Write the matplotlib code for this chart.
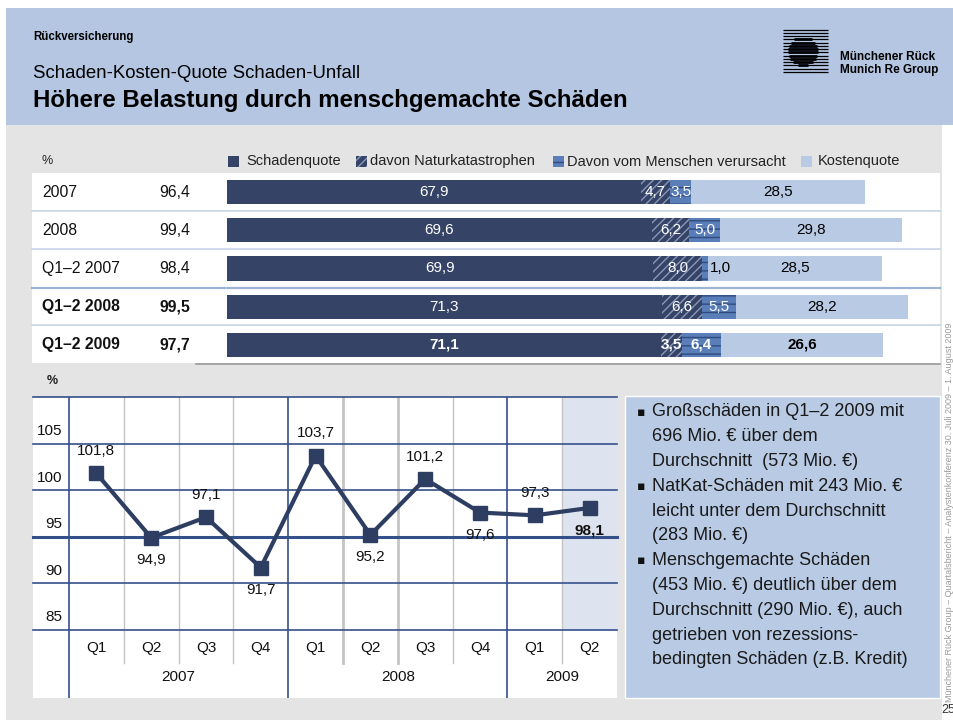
import matplotlib.pyplot as plt
import matplotlib.transforms as mtransforms
from matplotlib.patches import Rectangle

plt.rcParams['font.family'] = ['Liberation Sans', 'DejaVu Sans']
plt.rcParams['hatch.linewidth'] = 1.0

# ---------------- data ----------------
rows = ['2007', '2008', 'Q1–2 2007', 'Q1–2 2008', 'Q1–2 2009']
bold_rows = [False, False, False, True, True]
totals = [96.4, 99.4, 98.4, 99.5, 97.7]
schaden = [67.9, 69.6, 69.9, 71.3, 71.1]
natkat = [4.7, 6.2, 8.0, 6.6, 3.5]
mensch = [3.5, 5.0, 1.0, 5.5, 6.4]
kosten = [28.5, 29.8, 28.5, 28.2, 26.6]

quarters = ['Q1', 'Q2', 'Q3', 'Q4', 'Q1', 'Q2', 'Q3', 'Q4', 'Q1', 'Q2']
years = ['2007', '2008', '2009']
year_quarters = [4, 4, 2]
combined = [101.8, 94.9, 97.1, 91.7, 103.7, 95.2, 101.2, 97.6, 97.3, 98.1]

bullets = [
    ['Großschäden in Q1–2 2009 mit', '696 Mio. € über dem', 'Durchschnitt  (573 Mio. €)'],
    ['NatKat-Schäden mit 243 Mio. €', 'leicht unter dem Durchschnitt', '(283 Mio. €)'],
    ['Menschgemachte Schäden', '(453 Mio. €) deutlich über dem', 'Durchschnitt (290 Mio. €), auch',
     'getrieben von rezessions-', 'bedingten Schäden (z.B. Kredit)'],
]

NAVY = '#344366'
HATCH_FG = '#8a97b8'
MID = '#5a7eb8'
MID_FG = '#2f4c80'
LIGHT = '#b9cae4'
HEADER = '#b4c6e2'
GRAY = '#e4e4e4'
LINE = '#2e3e63'
GRID = '#34508a'


def fmt(v):
    return f'{v:.1f}'.replace('.', ',')


W, H = 954, 720
fig = plt.figure(figsize=(W / 100, H / 100), dpi=100)

# background axes in pixel coordinates
ax0 = fig.add_axes([0, 0, 1, 1])
ax0.set_xlim(0, W)
ax0.set_ylim(H, 0)
ax0.axis('off')

ax0.add_patch(Rectangle((6, 125), 936, 595, color=GRAY, lw=0))
ax0.add_patch(Rectangle((6, 8), 948, 117, color=HEADER, lw=0))
ax0.text(33, 37, 'Rückversicherung', fontsize=8.3, fontweight='bold', va='center')
ax0.text(33, 73, 'Schaden-Kosten-Quote Schaden-Unfall', fontsize=13.4, va='center')
ax0.text(33, 100, 'Höhere Belastung durch menschgemachte Schäden', fontsize=17.3,
         fontweight='bold', va='center')

# logo (stripes, thicker inside a disc)
for i in range(14):
    y = 29.5 + i * 3.25
    ax0.plot([783, 828], [y, y], color='black', lw=0.9, solid_capstyle='butt')
    dy = abs(y - 51)
    if dy < 15:
        half = (15 ** 2 - dy ** 2) ** 0.5
        ax0.plot([803 - half, 803 + half], [y, y], color='black', lw=2.0,
                 solid_capstyle='butt')
ax0.text(840, 57, 'Münchener Rück', fontsize=8.5, fontweight='bold', va='center')
ax0.text(840, 70, 'Munich Re Group', fontsize=8.5, fontweight='bold', va='center')

# legend of the bar table
ax0.text(42, 161, '%', fontsize=9, va='center', color='#222222')
leg = [(228, NAVY, None, NAVY, 'Schadenquote', 246),
       (356, NAVY, '////', HATCH_FG, 'davon Naturkatastrophen', 370),
       (553, MID, '--', MID_FG, 'Davon vom Menschen verursacht', 567),
       (801, LIGHT, None, LIGHT, 'Kostenquote', 818)]
for x, fc, hatch, ec, label, tx in leg:
    ax0.add_patch(Rectangle((x, 156), 11, 11, facecolor=fc, edgecolor=ec, hatch=hatch, lw=0))
    ax0.text(tx, 161.5, label, fontsize=10.5, va='center', color='#222222')

# white table
ax0.add_patch(Rectangle((32, 173), 908, 190, color='white', lw=0))
for i, y in enumerate([211, 249, 288, 325]):
    ax0.plot([32, 940], [y, y], color='#9db3d6' if i == 2 else '#c3d0e6',
             lw=1.6 if i == 2 else 1.1)
ax0.plot([196, 940], [363.5, 363.5], color='#9a9a9a', lw=1.2)

# ---------------- stacked bars ----------------
axb = fig.add_axes([227 / W, 1 - 364 / H, (940 - 227) / W, (364 - 173) / H])
axb.set_xlim(0, (940 - 227) / 6.1)
axb.set_ylim(len(rows) - 0.5, -0.5)
axb.axis('off')
axb.patch.set_alpha(0)

ypos = list(range(len(rows)))
h = 0.63
left2 = [a for a in schaden]
left3 = [a + b for a, b in zip(schaden, natkat)]
left4 = [a + b + c for a, b, c in zip(schaden, natkat, mensch)]
axb.barh(ypos, schaden, height=h, color=NAVY, lw=0)
axb.barh(ypos, natkat, left=left2, height=h, facecolor=NAVY, edgecolor=HATCH_FG,
         hatch='////', lw=0)
axb.barh(ypos, mensch, left=left3, height=h, facecolor=MID, edgecolor=MID_FG,
         hatch='--', lw=0)
axb.barh(ypos, kosten, left=left4, height=h, color=LIGHT, lw=0)

for i in ypos:
    fw = 'bold' if i == len(rows) - 1 else 'normal'
    axb.text(schaden[i] / 2, i, fmt(schaden[i]), color='white', ha='center', va='center',
             fontsize=11, fontweight=fw)
    axb.text(left2[i] + natkat[i] / 2, i, fmt(natkat[i]), color='white', ha='center',
             va='center', fontsize=11, fontweight=fw)
    if mensch[i] < 2:
        axb.text(left4[i] + 0.3, i, fmt(mensch[i]), color='black', ha='left', va='center',
                 fontsize=11, fontweight=fw)
    else:
        axb.text(left3[i] + mensch[i] / 2, i, fmt(mensch[i]), color='white', ha='center',
                 va='center', fontsize=11, fontweight=fw)
    axb.text(left4[i] + kosten[i] / 2, i, fmt(kosten[i]), color='black', ha='center',
             va='center', fontsize=11, fontweight=fw)

tr = mtransforms.blended_transform_factory(ax0.transData, axb.transData)
for i, name in enumerate(rows):
    fw = 'bold' if bold_rows[i] else 'normal'
    axb.text(42, i, name, transform=tr, va='center', fontsize=11.3, fontweight=fw,
             color='#111111')
    axb.text(190, i, fmt(totals[i]), transform=tr, va='center', ha='right', fontsize=11.3,
             fontweight=fw, color='#111111')

# ---------------- line chart ----------------
ymin, ymax = 77.7, 110
axl = fig.add_axes([33 / W, 1 - 698 / H, (617 - 33) / W, (698 - 397) / H])
axl.set_facecolor('white')
axl.set_xlim(-0.5 - 36 / 54.8, len(quarters) - 0.5)
axl.set_ylim(ymin, ymax)
for s in axl.spines.values():
    s.set_visible(False)
axl.set_xticks([])
axl.set_yticks([])

frac85 = (85 - ymin) / (ymax - ymin)
axl.axvspan(len(quarters) - 1.5, len(quarters) - 0.5, ymin=frac85, ymax=1,
            color='#dde4f0', lw=0, zorder=0)

xt = axl.get_xaxis_transform()
# quarter separators
for k in range(len(quarters) - 1):
    b = k + 0.5
    if b in (3.5, 7.5):
        continue
    lw = 2.0 if b in (4.5, 5.5) else 1.0
    axl.plot([b, b], [0.116, 1], transform=xt, color='#c4c4c4', lw=lw, zorder=1)
# year separators
pos = -0.5
for n in [0] + year_quarters[:-1]:
    pos += n
    axl.plot([pos, pos], [0, 1], transform=xt, color=GRID, lw=1.2, zorder=2)

for v in [85, 90, 95, 100, 105, 110]:
    axl.axhline(v, color=GRID, lw=2.2 if v == 95 else 1.2, zorder=2, clip_on=False)
for v in [85, 90, 95, 100, 105]:
    axl.annotate(str(v), xy=(0.05, v), xycoords=('axes fraction', 'data'),
                 xytext=(0, 4), textcoords='offset points', ha='right', va='bottom',
                 fontsize=11, color='#111111')

xs = list(range(len(combined)))
axl.plot(xs, combined, color=LINE, lw=3, marker='s', ms=10, zorder=5)
for i, v in enumerate(combined):
    up = i % 2 == 0
    axl.annotate(fmt(v), xy=(i, v), xytext=(0, 11 if up else -11), textcoords='offset points',
                 ha='center', va='bottom' if up else 'top', fontsize=11,
                 fontweight='bold' if i == len(combined) - 1 else 'normal', color='#111111',
                 zorder=6)

for i, q in enumerate(quarters):
    axl.text(i, 0.166, q, transform=xt, ha='center', va='center', fontsize=11,
             color='#111111')
start = 0
for y, n in zip(years, year_quarters):
    axl.text(start + (n - 1) / 2, 0.07, y, transform=xt, ha='center', va='center',
             fontsize=11, color='#111111')
    start += n

ax0.text(47, 381, '%', fontsize=9, fontweight='bold', va='center', color='#222222')

# ---------------- text box ----------------
ax0.add_patch(Rectangle((625, 396), 315, 302, facecolor='#b8cae4', edgecolor='white', lw=1,
                        zorder=1))
y = 412
for block in bullets:
    ax0.text(637, y, '▪', fontsize=9, va='center', color='#111111',
             family=['DejaVu Sans'])
    for line in block:
        ax0.text(652, y, line, fontsize=13, va='center', color='#1a1a1a')
        y += 24.8

ax0.text(950, 702, 'Münchener Rück Group – Quartalsbericht – Analystenkonferenz 30. Juli 2009 '
         '– 1. August 2009', rotation=90, fontsize=6.5, color='#9a9a9a', ha='center',
         va='bottom')
ax0.text(941, 710, '25', fontsize=9, va='center', color='#333333')

fig.savefig('out.png', dpi=100)
